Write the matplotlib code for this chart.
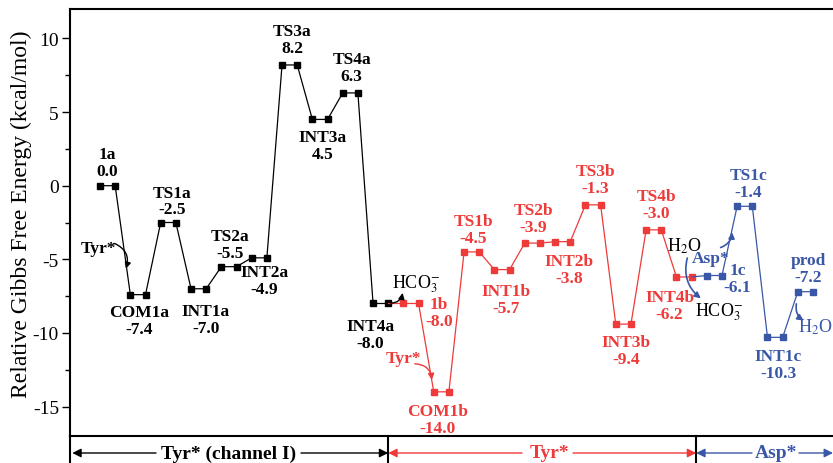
import matplotlib
matplotlib.use("Agg")
import matplotlib.pyplot as plt
import matplotlib.transforms as mtransforms

plt.rcParams["font.family"] = ["Liberation Serif", "DejaVu Serif"]
plt.rcParams["mathtext.fontset"] = "stix"

# Energy profile data (kcal/mol)
names_a = ["1a", "COM1a", "TS1a", "INT1a", "TS2a", "INT2a", "TS3a", "INT3a", "TS4a", "INT4a"]
energy_a = [0.0, -7.4, -2.5, -7.0, -5.5, -4.9, 8.2, 4.5, 6.3, -8.0]

names_b = ["1b", "COM1b", "TS1b", "INT1b", "TS2b", "INT2b", "TS3b", "INT3b", "TS4b", "INT4b"]
energy_b = [-8.0, -14.0, -4.5, -5.7, -3.9, -3.8, -1.3, -9.4, -3.0, -6.2]

names_c = ["1c", "TS1c", "INT1c", "prod"]
energy_c = [-6.1, -1.4, -10.3, -7.2]

BLACK = "#000000"
RED = "#EE3A39"
BLUE = "#3A57A7"

# label offsets in pixels: (dx, dy of name line, positive = down)
LABEL_OFFSETS = {
    "1a": (0, -32), "COM1a": (1.5, 17), "TS1a": (4, -30), "INT1a": (7, 22),
    "TS2a": (1.5, -31), "INT2a": (5, 14), "TS3a": (2.5, -34), "INT3a": (2.5, 18),
    "TS4a": (1.5, -34), "INT4a": (-10.5, 23),
    "1b": (28, 1), "COM1b": (-3.5, 19), "TS1b": (1.5, -31), "INT1b": (4.5, 21),
    "TS2b": (1, -33), "INT2b": (6.5, 19), "TS3b": (2.5, -34), "INT3b": (2.5, 18),
    "TS4b": (2.5, -34), "INT4b": (-14.5, 20),
    "1c": (23, -6), "TS1c": (3.5, -31), "INT1c": (3.5, 19), "prod": (3, -32),
}

PX = 0.72  # points per pixel at dpi=100
LABEL_SIZE = 12.5

fig = plt.figure(figsize=(8.33, 4.64), dpi=100)
ax = fig.add_axes([70 / 833, 27 / 464, 780 / 833, 427 / 464])

x_left = (70 - 100) / 15.17
x_right = (850 - 100) / 15.17
ax.set_xlim(x_left, x_right)
ax.set_ylim(-17, 12)


def channel_xy(energies, start):
    xs, ys = [], []
    for k, e in enumerate(energies):
        xs += [start + 2 * k, start + 2 * k + 1]
        ys += [e, e]
    return xs, ys


channels = [
    (names_a, energy_a, 0, BLACK),
    (names_b, energy_b, 20, RED),
    (names_c, energy_c, 40, BLUE),
]

prev_end = None
for names, energies, start, color in channels:
    xs, ys = channel_xy(energies, start)
    if prev_end is not None:
        ax.plot([prev_end[0], xs[0]], [prev_end[1], ys[0]], color=color, lw=0.9)
    ax.plot(xs, ys, color=color, lw=0.9, marker="s", markersize=3.8)
    prev_end = (xs[-1], ys[-1])
    for k, (n, e) in enumerate(zip(names, energies)):
        cx = start + 2 * k + 0.5
        dx, dy = LABEL_OFFSETS[n]
        ax.annotate(n, (cx, e), xytext=(dx * PX, -dy * PX), textcoords="offset points",
                    ha="center", va="center", fontsize=LABEL_SIZE, fontweight="bold", color=color)
        ax.annotate(f"{e:.1f}", (cx, e), xytext=(dx * PX, -(dy + 17) * PX),
                    textcoords="offset points", ha="center", va="center",
                    fontsize=LABEL_SIZE, fontweight="bold", color=color)


def px2x(px):
    return (px - 100) / 15.17


def py2y(py):
    return (187 - py) / 14.8


# side annotations with curved arrows
ax.text(px2x(98), py2y(250), "Tyr*", ha="center", va="center", fontsize=LABEL_SIZE,
        fontweight="bold", color=BLACK)
ax.annotate("", xy=(px2x(125), py2y(273)), xytext=(px2x(112), py2y(244)),
            arrowprops=dict(arrowstyle="-|>", color=BLACK, lw=1.0,
                            connectionstyle="arc3,rad=-0.5", mutation_scale=9))

ax.text(px2x(392), py2y(285), "HCO$_3^{-}$", ha="left", va="center", fontsize=13, color=BLACK)
ax.annotate("", xy=(px2x(403), py2y(292)), xytext=(px2x(388), py2y(305)),
            arrowprops=dict(arrowstyle="-|>", color=BLACK, lw=1.0,
                            connectionstyle="arc3,rad=0.5", mutation_scale=9))

ax.text(px2x(403), py2y(360), "Tyr*", ha="center", va="center", fontsize=LABEL_SIZE,
        fontweight="bold", color=RED)
ax.annotate("", xy=(px2x(432), py2y(385)), xytext=(px2x(412), py2y(366)),
            arrowprops=dict(arrowstyle="-|>", color=RED, lw=1.0,
                            connectionstyle="arc3,rad=-0.5", mutation_scale=9))

ax.text(px2x(667), py2y(247), "H$_2$O", ha="left", va="center", fontsize=13, color=BLACK)
ax.annotate("", xy=(px2x(703), py2y(302)), xytext=(px2x(688), py2y(257)),
            arrowprops=dict(arrowstyle="-|>", color=BLUE, lw=1.2,
                            connectionstyle="arc3,rad=0.35", mutation_scale=9))
ax.text(px2x(695), py2y(313), "HCO$_3^{-}$", ha="left", va="center", fontsize=13, color=BLACK)

ax.text(px2x(711), py2y(260), "Asp*", ha="center", va="center", fontsize=LABEL_SIZE,
        fontweight="bold", color=BLUE)
ax.annotate("", xy=(px2x(732), py2y(231)), xytext=(px2x(718), py2y(250)),
            arrowprops=dict(arrowstyle="-|>", color=BLUE, lw=1.2,
                            connectionstyle="arc3,rad=0.4", mutation_scale=9))

ax.text(px2x(798), py2y(328), "H$_2$O", ha="left", va="center", fontsize=13, color=BLUE)
ax.annotate("", xy=(px2x(806), py2y(324)), xytext=(px2x(797), py2y(303)),
            arrowprops=dict(arrowstyle="-|>", color=BLUE, lw=1.2,
                            connectionstyle="arc3,rad=0.4", mutation_scale=9))

# axes styling
for side in ["left", "top", "bottom", "right"]:
    ax.spines[side].set_linewidth(1.5)
ax.set_xticks([])
ax.set_yticks([-15, -10, -5, 0, 5, 10])
ax.set_yticks([-12.5, -7.5, -2.5, 2.5, 7.5], minor=True)
ax.set_yticklabels(["-15", "-10", "-5", "0", "5", "10"])
ax.tick_params(axis="y", which="major", direction="out", length=6, width=1.0,
               labelsize=14, pad=2)
ax.tick_params(axis="y", which="minor", direction="out", length=3.5, width=1.0)
fig.text(21 / 833, 1 - 214 / 464, "Relative Gibbs Free Energy (kcal/mol)", rotation=90,
         ha="center", va="center", fontsize=17)

# bottom band with channel arrows
trans = mtransforms.blended_transform_factory(ax.transData, ax.transAxes)
band_y = -17 / 427
band_bottom = -30 / 427
for xb in [x_left, 19, 39.3]:
    ax.plot([xb, xb], [0, band_bottom], color=BLACK, lw=1.5, transform=trans, clip_on=False)

band = [
    ("Tyr* (channel I)", BLACK, x_left + 0.15, 19, px2x(229), px2x(156), px2x(301)),
    ("Tyr*", RED, 19, 39.3, px2x(549), px2x(522), px2x(573)),
    ("Asp*", BLUE, 39.3, px2x(833), px2x(776), px2x(752), px2x(799)),
]
for label, color, x0, x1, xc, tl, tr in band:
    ax.text(xc, band_y, label, ha="center", va="center", fontsize=14,
            fontweight="bold", color=color, transform=trans, clip_on=False)
    ax.annotate("", xy=(x0, band_y), xytext=(tl, band_y), xycoords=trans, textcoords=trans,
                arrowprops=dict(arrowstyle="-|>", color=color, lw=1.0, mutation_scale=13,
                                shrinkA=0, shrinkB=0), annotation_clip=False)
    ax.annotate("", xy=(x1, band_y), xytext=(tr, band_y), xycoords=trans, textcoords=trans,
                arrowprops=dict(arrowstyle="-|>", color=color, lw=1.0, mutation_scale=13,
                                shrinkA=0, shrinkB=0), annotation_clip=False)

fig.savefig("out.png", dpi=100)
